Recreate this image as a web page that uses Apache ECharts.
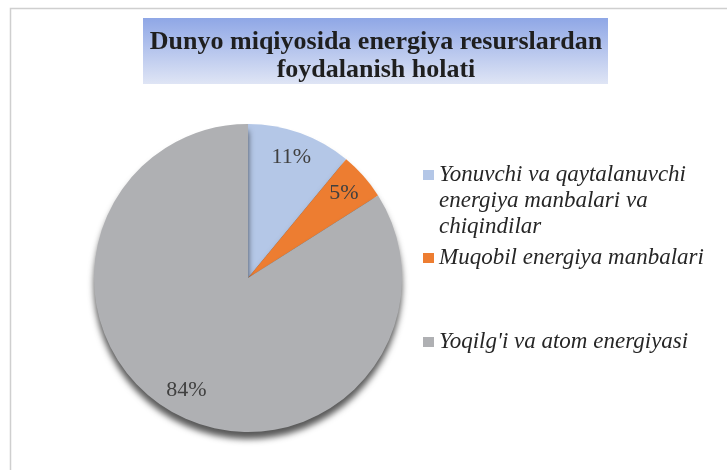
<!DOCTYPE html>
<html>
<head>
<meta charset="utf-8">
<script src="https://cdn.jsdelivr.net/npm/echarts@6/dist/echarts.min.js"></script>
<style>
  html, body { margin: 0; padding: 0; background: #fff; }
  #chart { width: 727px; height: 470px; }
</style>
</head>
<body>
<div id="chart"></div>
<script>
const titleText = 'Dunyo miqiyosida energiya resurslardan\nfoydalanish holati'
const categories = [
  'Yonuvchi va qaytalanuvchi energiya manbalari va chiqindilar',
  'Muqobil energiya manbalari',
  "Yoqilg'i va atom energiyasi"
]
// two leading blank lines keep the icon level with the first text line
const legendLabels = [
  '\n\nYonuvchi va qaytalanuvchi\nenergiya manbalari va\nchiqindilar',
  'Muqobil energiya manbalari',
  "Yoqilg'i va atom energiyasi"
]
const shares = [11, 5, 84]
const colors = ['#b4c7e7', '#ed7d31', '#afb0b3']

const serif = '"Liberation Serif", "Times New Roman", serif'
const pieData = categories.map((name, i) => ({
  name, value: shares[i], itemStyle: { color: colors[i] }
}))

const chart = echarts.init(document.getElementById('chart'))

function legendFor(i, top) {
  return {
    data: [{ name: categories[i], itemStyle: { color: colors[i] } }],
    left: 423,
    top,
    padding: 0,
    icon: 'rect',
    itemWidth: 11,
    itemHeight: 10,
    selectedMode: false,
    formatter: () => legendLabels[i],
    textStyle: {
      fontFamily: serif,
      fontStyle: 'italic',
      fontSize: 23,
      color: '#262626',
      lineHeight: 26
    }
  }
}

chart.setOption({
  animation: false,
  graphic: [
    {
      type: 'rect', shape: { x: 10.5, y: 8.5, width: 800, height: 500 },
      style: { fill: 'none', stroke: '#cfcfcf', lineWidth: 1.5 }, z: -10
    },
    {
      type: 'rect', shape: { x: 143, y: 18, width: 465, height: 66 },
      style: {
        fill: new echarts.graphic.LinearGradient(0, 0, 0, 1, [
          { offset: 0, color: '#8fa7e6' },
          { offset: 1, color: '#dfe5f5' }
        ])
      }, z: -5
    }
  ],
  title: {
    text: titleText,
    left: 371,
    top: 23,
    textAlign: 'center',
    textStyle: {
      fontFamily: serif,
      fontWeight: 'bold',
      fontSize: 26,
      lineHeight: 28,
      color: '#1f1f1f'
    }
  },
  legend: [
    legendFor(0, 110),
    legendFor(1, 245),
    legendFor(2, 329)
  ],
  series: [
    {
      type: 'pie',
      center: [248, 278],
      radius: 154,
      startAngle: 90,
      clockwise: true,
      silent: true,
      label: { show: false },
      labelLine: { show: false },
      itemStyle: {
        shadowBlur: 6,
        shadowOffsetY: 7,
        shadowColor: 'rgba(0,0,0,0.65)'
      },
      data: pieData
    },
    {
      // transparent ring, only carries the percentage labels
      type: 'pie',
      center: [248, 278],
      radius: [96, 154],
      startAngle: 90,
      clockwise: true,
      silent: true,
      itemStyle: { color: 'rgba(0,0,0,0)' },
      labelLine: { show: false },
      label: {
        show: true,
        position: 'inside',
        formatter: p => p.value + '%',
        fontFamily: serif,
        fontSize: 22,
        color: '#404040'
      },
      data: pieData.map(d => ({ name: d.name, value: d.value }))
    }
  ]
})
</script>
</body>
</html>
